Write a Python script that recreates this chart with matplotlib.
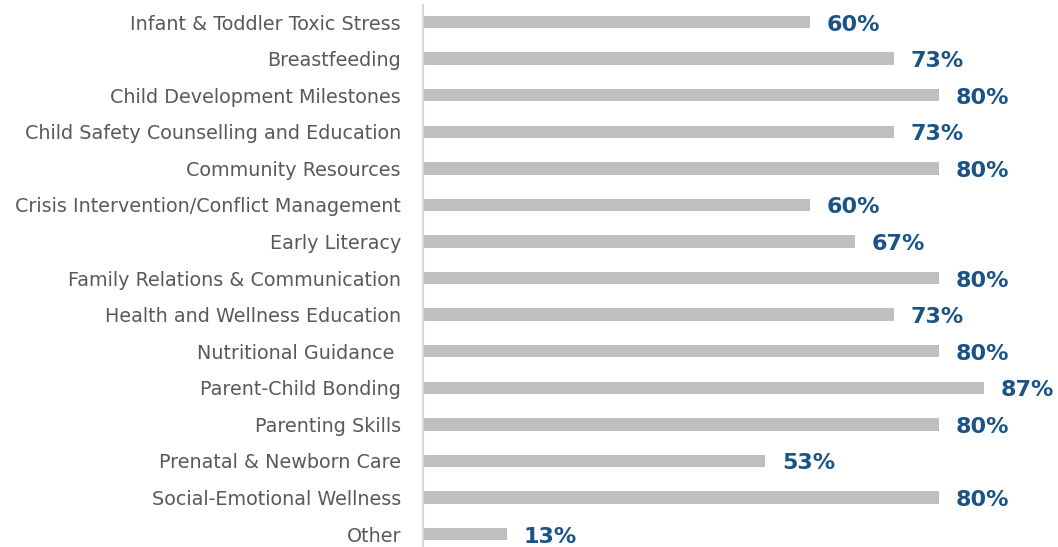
import matplotlib.pyplot as plt

categories = [
    "Infant & Toddler Toxic Stress",
    "Breastfeeding",
    "Child Development Milestones",
    "Child Safety Counselling and Education",
    "Community Resources",
    "Crisis Intervention/Conflict Management",
    "Early Literacy",
    "Family Relations & Communication",
    "Health and Wellness Education",
    "Nutritional Guidance ",
    "Parent-Child Bonding",
    "Parenting Skills",
    "Prenatal & Newborn Care",
    "Social-Emotional Wellness",
    "Other",
]
values = [60, 73, 80, 73, 80, 60, 67, 80, 73, 80, 87, 80, 53, 80, 13]

BAR_COLOR = "#bfbfbf"
LABEL_COLOR = "#1a5385"
TEXT_COLOR = "#595959"

fig = plt.figure(figsize=(10.58, 5.47), dpi=100)
ax = fig.add_axes([0.4, 0.0, 0.6, 542 / 547])

y = list(range(len(categories)))
ax.barh(y, values, height=0.34, color=BAR_COLOR)

for yi, v in zip(y, values):
    ax.annotate(f"{v}%", xy=(v, yi), xytext=(12, -1.8), textcoords="offset points",
                ha="left", va="center", fontsize=16, fontweight="bold",
                color=LABEL_COLOR, family="DejaVu Sans")

ax.set_yticks(y)
ax.set_yticklabels(categories, fontsize=13.8, color=TEXT_COLOR, family="DejaVu Sans")
ax.tick_params(axis="y", length=0, pad=16)
ax.set_xticks([])
ax.set_xlim(0, 98.4)
ax.set_ylim(14.355, -0.465)

for side in ["top", "right", "bottom"]:
    ax.spines[side].set_visible(False)
ax.spines["left"].set_color("#d9d9d9")
ax.spines["left"].set_linewidth(1.5)

fig.savefig("out.png", dpi=100)
